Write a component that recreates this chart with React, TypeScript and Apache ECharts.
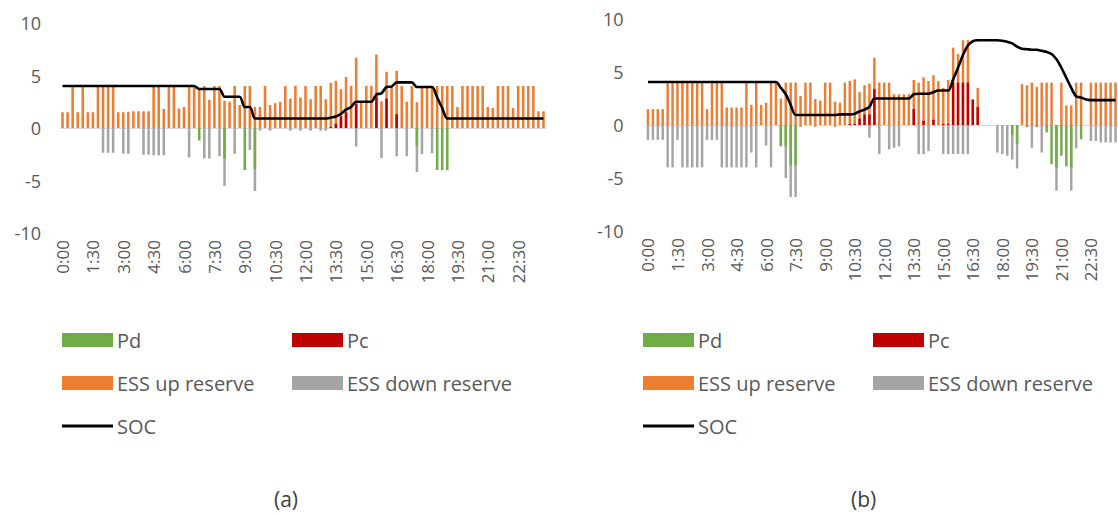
import React, { useEffect, useRef } from "react";
import * as echarts from "echarts";

const times: string[] = [];
for (let h = 0; h < 24; h++) for (let m = 0; m < 60; m += 15) times.push(`${h}:${m === 0 ? "00" : m}`);

const upA = [
  1.5, 1.5, 4.0, 1.5, 4.0, 1.5, 1.5, 4.0, 4.0, 4.0,
  4.0, 1.5, 1.5, 1.55, 1.6, 1.6, 1.6, 1.6, 4.0, 4.0,
  1.8, 4.0, 4.0, 1.85, 2.0, 4.0, 4.0, 3.8, 4.0, 2.7,
  4.0, 4.0, 2.6, 2.5, 4.0, 2.2, 4.0, 4.0, 2.0, 2.0,
  4.0, 2.2, 2.35, 2.5, 4.0, 2.8, 4.0, 2.9, 4.0, 2.75,
  4.0, 4.0, 2.75, 4.3, 4.5, 3.7, 4.85, 4.0, 6.7, 2.5,
  4.0, 4.0, 7.0, 2.55, 5.35, 4.0, 5.45, 4.0, 2.5, 4.0,
  2.45, 4.0, 4.0, 4.0, 4.0, 4.0, 4.0, 4.0, 2.0, 4.0,
  4.0, 4.0, 4.0, 4.0, 2.0, 1.9, 4.0, 4.0, 4.0, 1.9,
  4.0, 4.0, 4.0, 4.0, 1.6, 1.6,
];
const downA = [
  0, 0, 0, 0, 0, 0, 0, 0, -2.35, -2.35,
  -2.35, 0, -2.45, -2.45, 0, 0, -2.55, -2.55, -2.6, -2.6,
  -2.6, 0, 0, 0, 0, -2.8, 0, 0, -2.9, -2.9,
  0, -2.7, -5.5, 0, -2.45, 0, 0, -2.1, -6.0, -0.25,
  0, -0.25, 0, 0, 0, -0.25, 0, -0.25, 0, -0.25,
  0, -0.25, -0.25, 0, 0, 0, 0, 0, -1.75, 0,
  0, 0, 0, -2.85, 0, 0, -2.7, 0, -2.7, 0,
  -4.2, -2.5, 0, -2.4, 0, 0, 0, 0, 0, 0,
  0, 0, 0, 0, 0, 0, 0, 0, 0, 0,
  0, 0, 0, 0, 0, 0,
];
const pdA = [
  0, 0, 0, 0, 0, 0, 0, 0, 0, 0,
  0, 0, 0, 0, 0, 0, 0, 0, 0, 0,
  0, 0, 0, 0, 0, 0, 0, -1.2, 0, 0,
  0, 0, -2.9, 0, 0, 0, -4.0, 0, -3.9, 0,
  0, 0, 0, 0, 0, 0, 0, 0, 0, 0,
  0, 0, 0, 0, 0, 0, 0, 0, 0, 0,
  0, 0, 0, 0, 0, 0, 0, 0, 0, 0,
  -1.7, 0, 0, 0, -4.0, -4.0, -4.0, 0, 0, 0,
  0, 0, 0, 0, 0, 0, 0, 0, 0, 0,
  0, 0, 0, 0, 0, 0,
];
const pcA = [
  0, 0, 0, 0, 0, 0, 0, 0, 0, 0,
  0, 0, 0, 0, 0, 0, 0, 0, 0, 0,
  0, 0, 0, 0, 0, 0, 0, 0, 0, 0,
  0, 0, 0, 0, 0, 0, 0, 0, 0, 0,
  0, 0, 0, 0, 0, 0, 0, 0, 0, 0,
  0, 0, 0, 0.1, 0.4, 1.1, 1.5, 0, 2.3, 0,
  0, 0, 3.0, 0, 2.8, 0, 1.3, 0, 0, 0,
  0, 0, 0, 0, 0, 0, 0, 0, 0, 0,
  0, 0, 0, 0, 0, 0, 0, 0, 0, 0,
  0, 0, 0, 0, 0, 0,
];
const socA = [
  4.0, 4.0, 4.0, 4.0, 4.0, 4.0, 4.0, 4.0, 4.0, 4.0,
  4.0, 4.0, 4.0, 4.0, 4.0, 4.0, 4.0, 4.0, 4.0, 4.0,
  4.0, 4.0, 4.0, 4.0, 4.0, 4.0, 4.0, 3.72, 3.72, 3.72,
  3.72, 3.72, 2.98, 2.98, 2.98, 2.98, 2.0, 2.0, 0.9, 0.9,
  0.9, 0.9, 0.9, 0.9, 0.9, 0.9, 0.9, 0.9, 0.9, 0.9,
  0.9, 0.9, 0.9, 1.0, 1.1, 1.35, 1.75, 2.0, 2.5, 2.5,
  2.5, 2.5, 3.2, 3.3, 3.9, 3.95, 4.35, 4.35, 4.35, 4.35,
  3.9, 3.9, 3.9, 3.9, 2.9, 1.9, 0.9, 0.9, 0.9, 0.9,
  0.9, 0.9, 0.9, 0.9, 0.9, 0.9, 0.9, 0.9, 0.9, 0.9,
  0.9, 0.9, 0.9, 0.9, 0.9, 0.9,
];

const upB = [
  1.5, 1.5, 1.5, 1.5, 4.0, 4.0, 4.0, 4.0, 4.0, 4.0,
  4.0, 4.0, 1.5, 4.0, 4.0, 4.0, 1.65, 1.65, 1.65, 1.65,
  4.0, 1.9, 4.0, 1.9, 2.1, 4.0, 4.0, 2.5, 4.0, 4.0,
  4.0, 2.75, 4.0, 4.0, 2.45, 2.3, 4.0, 4.0, 2.2, 2.1,
  4.0, 4.15, 4.3, 3.1, 3.75, 3.9, 6.35, 4.0, 4.0, 4.0,
  2.9, 2.9, 2.9, 2.9, 4.25, 4.0, 4.5, 4.15, 4.7, 4.15,
  3.5, 4.25, 7.3, 6.7, 8.0, 8.0, 2.4, 3.5, 0, 0,
  0, 0, 0, 0, 0, 0, 3.85, 3.75, 4.0, 3.6,
  4.0, 4.0, 4.0, 0, 4.0, 1.85, 1.85, 4.0, 4.0, 0,
  4.0, 4.0, 4.0, 4.0, 4.0, 4.0,
];
const downB = [
  -1.4, -1.4, -1.4, -1.4, -4.0, -4.0, -1.4, -4.0, -4.0, -4.0,
  -4.0, -4.0, -1.4, -1.4, -1.4, -4.0, -4.0, -4.0, -4.0, -4.0,
  -4.0, -2.6, -4.0, 0, -1.95, -4.0, 0, -2.0, -5.0, -6.8,
  -6.8, -0.2, 0, 0, -0.2, 0, 0, 0, -0.2, 0,
  0, 0, 0, 0, 0, -1.2, 0, -2.75, 0, -2.3,
  -2.15, -2.0, 0, 0, 0, -2.75, -2.75, -2.45, 0, 0,
  -2.75, -2.75, -2.75, -2.75, -2.75, -2.75, 0, 0, 0, 0,
  0, -2.6, -2.75, -2.9, -3.25, -4.1, 0, 0, -2.15, 0,
  -2.6, 0, 0, -6.2, 0, 0, -6.2, -2.2, 0, 0,
  -1.5, -1.5, -1.65, -1.65, -1.65, -1.65,
];
const pdB = [
  0, 0, 0, 0, 0, 0, 0, 0, 0, 0,
  0, 0, 0, 0, 0, 0, 0, 0, 0, 0,
  0, 0, 0, 0, 0, 0, 0, -2.0, -2.0, -3.8,
  -3.8, 0, 0, 0, 0, 0, 0, 0, 0, 0,
  0, 0, 0, 0, 0, 0, 0, 0, 0, 0,
  0, 0, 0, 0, 0, 0, 0, 0, 0, 0,
  0, 0, 0, 0, 0, 0, 0, 0, 0, 0,
  0, 0, 0, 0, -0.9, -1.8, 0, -0.2, 0, -0.2,
  0, -0.7, -3.7, -4.0, -2.9, -3.9, -4.0, 0, -1.35, 0,
  0, 0, 0, 0, 0, 0,
];
const pcB = [
  0, 0, 0, 0, 0, 0, 0, 0, 0, 0,
  0, 0, 0, 0, 0, 0, 0, 0, 0, 0,
  0, 0, 0, 0, 0, 0, 0, 0, 0, 0,
  0, 0, 0, 0, 0, 0, 0, 0, 0, 0,
  0, 0.1, 0.1, 0.6, 1.0, 1.0, 3.4, 0, 0, 0,
  0, 0, 0, 0, 1.5, 0, 0.4, 0, 0.5, 0,
  0.1, 0.1, 4.0, 4.0, 4.0, 4.0, 2.4, 1.7, 0, 0,
  0, 0, 0, 0, 0, 0, 0, 0, 0, 0,
  0, 0, 0, 0, 0, 0, 0, 0, 0, 0,
  0, 0, 0, 0, 0, 0,
];
const socB = [
  4.05, 4.05, 4.05, 4.05, 4.05, 4.05, 4.05, 4.05, 4.05, 4.05,
  4.05, 4.05, 4.05, 4.05, 4.05, 4.05, 4.05, 4.05, 4.05, 4.05,
  4.05, 4.05, 4.05, 4.05, 4.05, 4.05, 4.05, 3.5, 2.9, 1.9,
  0.95, 0.95, 0.95, 0.95, 0.95, 0.95, 0.95, 0.95, 0.95, 1.0,
  1.0, 1.0, 1.05, 1.3, 1.45, 1.7, 2.5, 2.5, 2.5, 2.5,
  2.5, 2.5, 2.5, 2.5, 2.9, 2.95, 2.95, 2.95, 3.1, 3.25,
  3.25, 3.25, 4.3, 5.4, 6.6, 7.5, 7.9, 8.0, 8.0, 8.0,
  8.0, 8.0, 7.95, 7.85, 7.7, 7.4, 7.2, 7.15, 7.1, 7.1,
  7.0, 6.9, 6.7, 6.2, 5.4, 4.45, 3.5, 2.7, 2.6, 2.4,
  2.35, 2.35, 2.35, 2.35, 2.35, 2.35,
];

const yTicks = { min: -10, max: 10, interval: 5 };
const FONT = "'Open Sans', 'Liberation Sans', sans-serif";
const TXT = "#595959";

const COLORS = { up: "#ED7D31", down: "#A5A5A5", pd: "#70AD47", pc: "#C00000", soc: "#000000" };

function panelSeries(gi: number, up: number[], down: number[], pd: number[], pc: number[], soc: number[]) {
  const bar = (name: string, data: number[], color: string, extra: any = {}) => ({
    name,
    type: "bar",
    xAxisIndex: gi,
    yAxisIndex: gi,
    data,
    barWidth: "50%",
    barGap: "-100%",
    itemStyle: { color },
    ...extra,
  });
  return [
    bar("ESS up reserve", up, COLORS.up, {
      markLine: {
        silent: true,
        symbol: "none",
        label: { show: false },
        lineStyle: { color: "#d9d9d9", width: 1, type: "solid" },
        data: [{ yAxis: 0 }],
        z: 1,
      },
    }),
    bar("ESS down reserve", down, COLORS.down),
    bar("Pd", pd, COLORS.pd),
    bar("Pc", pc, COLORS.pc),
    {
      name: "SOC",
      type: "line",
      xAxisIndex: gi,
      yAxisIndex: gi,
      data: soc,
      symbol: "none",
      smooth: 0.3,
      lineStyle: { color: COLORS.soc, width: 2.6 },
      itemStyle: { color: COLORS.soc },
      z: 5,
    },
  ];
}

function legendItem(name: string, left: number, cy: number, isLine = false) {
  return {
    data: [name],
    left,
    top: cy - 10,
    orient: "horizontal",
    padding: 0,
    itemGap: 0,
    itemWidth: 51,
    itemHeight: isLine ? 3 : 14,
    icon: "rect",
    selectedMode: false,
    textStyle: { fontSize: 20, color: TXT, fontFamily: FONT, padding: [0, 0, 0, -1] },
  };
}

export default function App() {
  const ref = useRef<HTMLDivElement>(null);
  useEffect(() => {
    if (!ref.current) return;
    const chart = echarts.init(ref.current, undefined, { renderer: "svg" });
    const grids = [
      { left: 60, top: 23, width: 486, height: 210 },
      { left: 645.5, top: 19, width: 486, height: 212 },
    ];
    const xAxes = grids.map((_, gi) => ({
      type: "category",
      gridIndex: gi,
      data: times,
      axisLine: { show: false },
      axisTick: { show: false },
      axisLabel: {
        interval: 5,
        rotate: 90,
        margin: 7,
        fontSize: 17,
        color: TXT,
        fontFamily: FONT,
      },
    }));
    const yAxes = grids.map((_, gi) => ({
      type: "value",
      gridIndex: gi,
      ...yTicks,
      axisLine: { show: false },
      axisTick: { show: false },
      splitLine: { show: false },
      axisLabel: { margin: gi === 0 ? 19 : 22, fontSize: 18, color: TXT, fontFamily: FONT },
    }));
    const legends = [
      legendItem("Pd", 62, 340),
      legendItem("Pc", 292, 340),
      legendItem("ESS up reserve", 62, 383),
      legendItem("ESS down reserve", 292, 383),
      legendItem("SOC", 62, 426, true),
      legendItem("Pd", 643, 340),
      legendItem("Pc", 873, 340),
      legendItem("ESS up reserve", 643, 383),
      legendItem("ESS down reserve", 873, 383),
      legendItem("SOC", 643, 426, true),
    ];
    chart.setOption({
      animation: false,
      backgroundColor: "#ffffff",
      grid: grids,
      xAxis: xAxes,
      yAxis: yAxes,
      legend: legends,
      series: [
        ...panelSeries(0, upA, downA, pdA, pcA, socA),
        ...panelSeries(1, upB, downB, pdB, pcB, socB),
      ],
      graphic: [
        { type: "text", left: 274, top: 488, style: { text: "(a)", fontSize: 21, fill: "#404040", fontFamily: FONT } },
        { type: "text", left: 851, top: 488, style: { text: "(b)", fontSize: 21, fill: "#404040", fontFamily: FONT } },
      ],
    });
    return () => chart.dispose();
  }, []);
  return (
    <div
      ref={ref}
      style={{ position: "absolute", left: 0, top: 0, width: 1118, height: 517, background: "#fff" }}
    />
  );
}
